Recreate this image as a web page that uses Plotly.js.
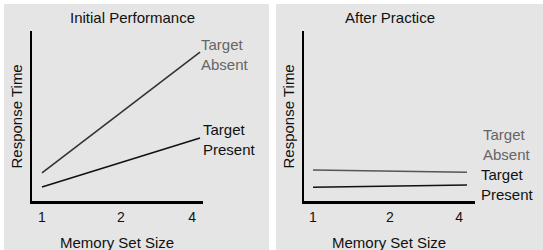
<!DOCTYPE html>
<html>
<head>
<meta charset="utf-8">
<script src="https://cdn.plot.ly/plotly-3.0.1.min.js"></script>
<style>
  html, body { margin: 0; padding: 0; background: #ffffff; }
  #chart { width: 543px; height: 250px; }
</style>
</head>
<body>
<div id="chart"></div>
<script>
// ---- Data ----
const setSizes = [1, 4];
const tickValues = [1, 2, 4];
const tickLabels = ['1', '2', '4\u00a0\u00a0\u00a0\u00a0'];
const initialAbsent = [16.5, 87.6];
const initialPresent = [8.2, 37];
const practiceAbsent = [18.2, 16.9];
const practicePresent = [8.1, 9.4];
const panelTitles = ['Initial Performance', 'After Practice'];
const xTitle = 'Memory Set Size';
const yTitle = 'Response Time';
const absentLabel = 'Target<br>Absent';
const presentLabel = 'Target<br>Present';

const W = 543, H = 250;
const px = v => v / W;
const py = v => 1 - v / H;
const FONT = 'Liberation Sans, Arial, sans-serif';

const traces = [
  {x: setSizes, y: initialAbsent, xaxis: 'x', yaxis: 'y', mode: 'lines', line: {color: '#333333', width: 1.6}, hoverinfo: 'skip'},
  {x: setSizes, y: initialPresent, xaxis: 'x', yaxis: 'y', mode: 'lines', line: {color: '#111111', width: 1.6}, hoverinfo: 'skip'},
  {x: setSizes, y: practiceAbsent, xaxis: 'x2', yaxis: 'y2', mode: 'lines', line: {color: '#555555', width: 1.4}, hoverinfo: 'skip'},
  {x: setSizes, y: practicePresent, xaxis: 'x2', yaxis: 'y2', mode: 'lines', line: {color: '#111111', width: 1.4}, hoverinfo: 'skip'}
];

const xCommon = {
  type: 'log', showgrid: false, zeroline: false, showline: true, linecolor: '#000', linewidth: 2.5,
  ticks: '', tickvals: tickValues, ticktext: tickLabels, ticklabelstandoff: 2,
  tickfont: {family: FONT, size: 14, color: '#111'}, fixedrange: true
};
const yCommon = {
  range: [0, 100], showgrid: false, zeroline: false, showline: true, linecolor: '#000', linewidth: 2.5,
  showticklabels: false, ticks: '', fixedrange: true,
  domain: [1 - 201 / H, 1 - 31 / H]
};

const layout = {
  width: W, height: H,
  margin: {l: 0, r: 0, t: 0, b: 0, pad: 0},
  paper_bgcolor: '#ffffff',
  plot_bgcolor: 'rgba(0,0,0,0)',
  showlegend: false,
  xaxis: Object.assign({}, xCommon, {domain: [px(32), px(203)], range: [-0.0381, 0.6135], anchor: 'y'}),
  yaxis: Object.assign({}, yCommon, {anchor: 'x'}),
  xaxis2: Object.assign({}, xCommon, {domain: [px(304), px(475)], range: [-0.0352, 0.6333], anchor: 'y2'}),
  yaxis2: Object.assign({}, yCommon, {anchor: 'x2'}),
  shapes: [
    {type: 'rect', xref: 'paper', yref: 'paper', x0: px(4), x1: px(269), y0: 0, y1: py(4), fillcolor: '#e5e5e5', line: {width: 0}, layer: 'below'},
    {type: 'rect', xref: 'paper', yref: 'paper', x0: px(276), x1: 1, y0: 0, y1: py(4), fillcolor: '#e5e5e5', line: {width: 0}, layer: 'below'}
  ],
  annotations: [
    // panel titles
    {text: panelTitles[0], xref: 'paper', yref: 'paper', x: px(132.5), y: py(18), xanchor: 'center', yanchor: 'middle', showarrow: false, font: {family: FONT, size: 15, color: '#111'}},
    {text: panelTitles[1], xref: 'paper', yref: 'paper', x: px(390), y: py(18), xanchor: 'center', yanchor: 'middle', showarrow: false, font: {family: FONT, size: 15, color: '#111'}},
    // x titles
    {text: xTitle, xref: 'paper', yref: 'paper', x: px(117), y: py(242), xanchor: 'center', yanchor: 'middle', showarrow: false, font: {family: FONT, size: 15, color: '#111'}},
    {text: xTitle, xref: 'paper', yref: 'paper', x: px(389), y: py(242), xanchor: 'center', yanchor: 'middle', showarrow: false, font: {family: FONT, size: 15, color: '#111'}},
    // y titles
    {text: yTitle, xref: 'paper', yref: 'paper', x: px(16), y: py(116.5), xanchor: 'center', yanchor: 'middle', textangle: -90, showarrow: false, font: {family: FONT, size: 15, color: '#111'}},
    {text: yTitle, xref: 'paper', yref: 'paper', x: px(288), y: py(116.5), xanchor: 'center', yanchor: 'middle', textangle: -90, showarrow: false, font: {family: FONT, size: 15, color: '#111'}},
    // line labels
    {text: absentLabel, xref: 'x', yref: 'y', x: Math.log10(setSizes[1]), y: initialAbsent[1], xanchor: 'left', yanchor: 'middle', align: 'left', xshift: -1, yshift: -2, showarrow: false, font: {family: FONT, size: 15, color: '#666666'}},
    {text: presentLabel, xref: 'x', yref: 'y', x: Math.log10(setSizes[1]), y: initialPresent[1], xanchor: 'left', yanchor: 'middle', align: 'left', xshift: 1, yshift: -1, showarrow: false, font: {family: FONT, size: 15, color: '#111111'}},
    {text: absentLabel, xref: 'x2', yref: 'y2', x: Math.log10(setSizes[1]), y: practiceAbsent[1], xanchor: 'left', yanchor: 'middle', align: 'left', xshift: 14, yshift: 28, showarrow: false, font: {family: FONT, size: 15, color: '#666666'}},
    {text: presentLabel, xref: 'x2', yref: 'y2', x: Math.log10(setSizes[1]), y: practicePresent[1], xanchor: 'left', yanchor: 'middle', align: 'left', xshift: 12, yshift: 1, showarrow: false, font: {family: FONT, size: 15, color: '#111111'}}
  ]
};

Plotly.newPlot('chart', traces, layout, {staticPlot: true, displayModeBar: false});
</script>
</body>
</html>
